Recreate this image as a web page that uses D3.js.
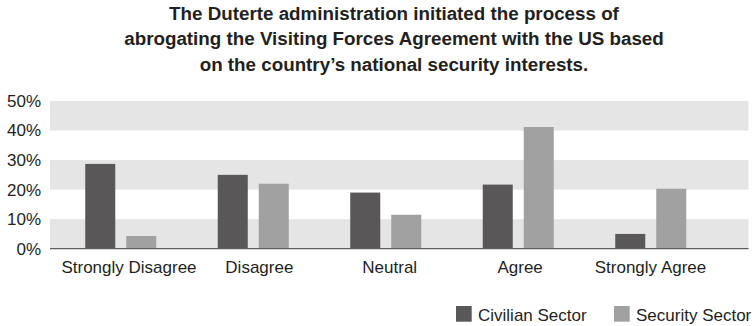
<!DOCTYPE html>
<html>
<head>
<meta charset="utf-8">
<script src="https://cdn.jsdelivr.net/npm/d3@7/dist/d3.min.js"></script>
<style>
  html, body { margin: 0; padding: 0; background: #fff; }
  svg { display: block; font-family: "Liberation Sans", Arial, Helvetica, sans-serif; }
</style>
</head>
<body>
<svg id="chart" width="756" height="326"></svg>
<script>
// Survey responses, share of respondents (%)
const categories = ["Strongly Disagree", "Disagree", "Neutral", "Agree", "Strongly Agree"];
const seriesNames = ["Civilian Sector", "Security Sector"];
const civilian = [28.7, 25.0, 19.0, 21.7, 5.0];
const security = [4.3, 22.0, 11.5, 41.2, 20.3];
const yTicks = [0, 10, 20, 30, 40, 50];
const titleLines = [
  "The Duterte administration initiated the process of",
  "abrogating the Visiting Forces Agreement with the US based",
  "on the country\u2019s national security interests."
];

const colors = { "Civilian Sector": "#595757", "Security Sector": "#a0a1a0" };
const seriesValues = { "Civilian Sector": civilian, "Security Sector": security };

const svg = d3.select("#chart");
const plotLeft = 50, plotRight = 748.5;
const textColor = "#231f20";

const y = d3.scaleLinear().domain([0, 50]).range([248.7, 101]);

const x0 = d3.scaleBand()
  .domain(categories)
  .range([54.5, 717])
  .paddingInner(0.464)
  .paddingOuter(0.232);

const x1 = d3.scaleBand()
  .domain(seriesNames)
  .range([0, x0.bandwidth()])
  .paddingInner(0.268);

const xLabel = d3.scalePoint().domain(categories).range([129, 650.5]);

// Alternating shaded bands: 0-10, 20-30, 40-50
const bands = d3.pairs(yTicks).filter((d, i) => i % 2 === 0);
svg.append("g").selectAll("rect")
  .data(bands)
  .join("rect")
  .attr("x", plotLeft)
  .attr("width", plotRight - plotLeft)
  .attr("y", d => y(d[1]))
  .attr("height", d => y(d[0]) - y(d[1]))
  .attr("fill", "#e5e5e5");

// Bars
const groups = svg.append("g").selectAll("g")
  .data(categories)
  .join("g")
  .attr("transform", d => `translate(${x0(d)},0)`);

groups.selectAll("rect")
  .data((c, i) => seriesNames.map(s => ({ s, v: seriesValues[s][i] })))
  .join("rect")
  .attr("x", d => x1(d.s))
  .attr("width", x1.bandwidth())
  .attr("y", d => y(d.v))
  .attr("height", d => y(0) - y(d.v))
  .attr("fill", d => colors[d.s]);

// Baseline
svg.append("line")
  .attr("x1", plotLeft).attr("x2", plotRight)
  .attr("y1", y(0)).attr("y2", y(0))
  .attr("stroke", "#5e5e5e")
  .attr("stroke-width", 1.3);

// Y axis labels
const yAxis = d3.axisLeft(y)
  .tickValues(yTicks)
  .tickFormat(d => d + "%")
  .tickSize(0)
  .tickPadding(0);
const yg = svg.append("g").attr("transform", "translate(41,0)").call(yAxis);
yg.select(".domain").remove();
yg.selectAll("text")
  .attr("font-size", 17)
  .attr("font-family", "Liberation Sans, Arial, sans-serif")
  .attr("fill", textColor);

// Category labels
svg.append("g").selectAll("text")
  .data(categories)
  .join("text")
  .attr("x", d => xLabel(d))
  .attr("y", 272.5)
  .attr("text-anchor", "middle")
  .attr("font-size", 17)
  .attr("fill", textColor)
  .text(d => d);

// Title
svg.append("g").selectAll("text")
  .data(titleLines)
  .join("text")
  .attr("x", 394)
  .attr("y", (d, i) => 19.5 + i * 25.5)
  .attr("text-anchor", "middle")
  .attr("font-size", 18.8)
  .attr("font-weight", "bold")
  .attr("fill", textColor)
  .text(d => d);

// Legend
const legendPos = { "Civilian Sector": 456, "Security Sector": 614 };
const lg = svg.append("g").selectAll("g")
  .data(seriesNames)
  .join("g")
  .attr("transform", d => `translate(${legendPos[d]},306)`);
lg.append("rect")
  .attr("width", 15.7).attr("height", 15.7)
  .attr("fill", d => colors[d]);
lg.append("text")
  .attr("x", 22)
  .attr("y", 15)
  .attr("font-size", 17)
  .attr("fill", textColor)
  .text(d => d);
</script>
</body>
</html>
